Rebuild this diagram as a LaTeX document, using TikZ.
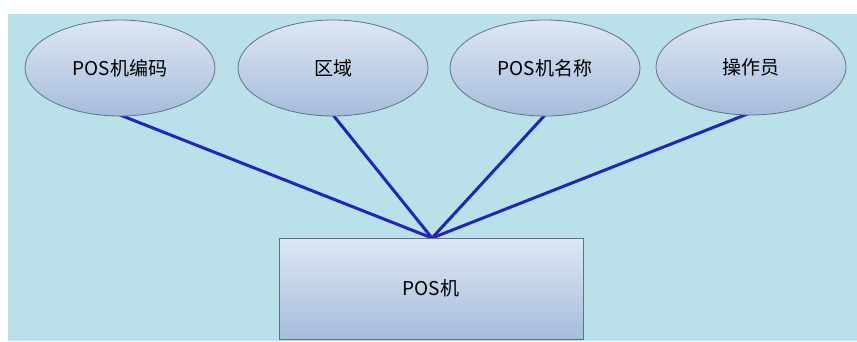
\documentclass[tikz,border=0pt]{standalone}
\usepackage{fontspec}
\newfontfamily\cjk{Noto Sans CJK SC}
\usetikzlibrary{shapes.geometric}
\definecolor{bgblue}{HTML}{BAE1E9}
\definecolor{topc}{HTML}{DEE7F3}
\definecolor{botc}{HTML}{A6BCDC}
\definecolor{edgec}{HTML}{5F7384}
\definecolor{linkc}{HTML}{2323C0}
\tikzset{
  attr/.style={ellipse, draw=edgec, line width=0.8pt, top color=topc, bottom color=botc,
    minimum width=190pt, minimum height=96pt, inner sep=0pt, font=\cjk\fontsize{19}{21}\selectfont},
  entity/.style={rectangle, draw=edgec, line width=0.8pt, top color=topc, bottom color=botc,
    minimum width=304pt, minimum height=101pt, inner sep=0pt, font=\cjk\fontsize{19}{21}\selectfont},
  link/.style={draw=linkc, line width=3pt}
}
\begin{document}
\begin{tikzpicture}[x=1pt,y=-1pt]
\useasboundingbox (0,0) rectangle (857,341);
\fill[white] (0,0) rectangle (857,341);
\fill[bgblue] (8,14) rectangle (857,341);
\coordinate (hub) at (432,238);
\draw[link] (120,115) -- (hub);
\draw[link] (333,115) -- (hub);
\draw[link] (545,115) -- (hub);
\draw[link] (750,113) -- (hub);
\node[attr] (a1) at (120,68) {POS机编码};
\node[attr] (a2) at (333,68) {区域};
\node[attr] (a3) at (545,68) {POS机名称};
\node[attr] (a4) at (751,67) {操作员};
\node[entity] (e) at (431,288.5) {POS机};
\end{tikzpicture}
\end{document}
